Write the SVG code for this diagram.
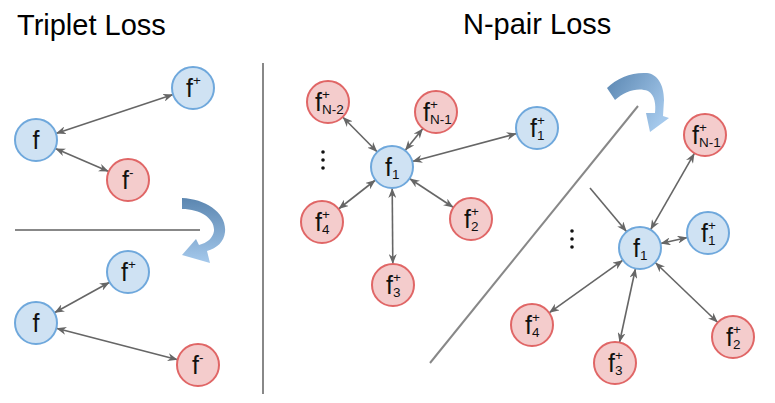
<svg xmlns="http://www.w3.org/2000/svg" width="775" height="403" viewBox="0 0 775 403">
<style>
.title{font-family:"Liberation Sans",Arial,sans-serif;font-size:29px;fill:#000}
.lbl{font-family:"Liberation Sans",Arial,sans-serif;font-size:25px;fill:#111}
.sm{font-size:13.5px}
.b{fill:#cfe2f3;stroke:#6fa8dc;stroke-width:2}
.r{fill:#f4cccc;stroke:#e06666;stroke-width:2}
.e{stroke:#666;stroke-width:1.6;fill:none;marker-start:url(#ah);marker-end:url(#ah)}
.e1{stroke:#666;stroke-width:1.6;fill:none;marker-end:url(#ah)}
.div{stroke:#888;stroke-width:2;fill:none}
.dot{fill:#111}
</style>
<defs>
<marker id="ah" markerUnits="userSpaceOnUse" markerWidth="10" markerHeight="8" refX="10" refY="4" orient="auto-start-reverse">
<path d="M0,0 L10,4 L0,8 L3,4 z" fill="#666"/>
</marker>
<linearGradient id="g1" x1="0" y1="0" x2="0" y2="1">
<stop offset="0" stop-color="#5b86b0"/>
<stop offset="1" stop-color="#a5c9ec"/>
</linearGradient>
<linearGradient id="g2" x1="0" y1="0" x2="1" y2="0.6">
<stop offset="0" stop-color="#5a86b1"/>
<stop offset="1" stop-color="#a5c9ec"/>
</linearGradient>
</defs>

<text class="title" x="17" y="35">Triplet Loss</text>
<text class="title" x="463" y="34">N-pair Loss</text>

<g id="dividers">
<line class="div" x1="15" y1="230" x2="200" y2="230"/>
<line class="div" x1="263" y1="63" x2="263" y2="394"/>
<line class="div" x1="430" y1="363" x2="638" y2="106"/>
</g>

<g id="rotate-arrows">
<path fill="url(#g1)" d="M182,198 C206,199 227,213 225,232 C224,242 217,248 207,251 L210,263 L182,255 L196,239 L199,245 C207,243 213,238 214,231 C215,219 201,209 182,209 Z"/>
<path fill="url(#g2)" d="M607,88 C617,78 632,72 647,73 C657,74 664,84 664,100 L663,116 L669,118 L650,132 L646,113 L655,113 C656,105 655,95 648,91 C638,87 625,91 615,100 Z"/>
</g>

<g id="connectors">
<line class="e" x1="55.9" y1="133.4" x2="173.1" y2="94.6"/>
<line class="e" x1="55.3" y1="148.4" x2="108.7" y2="171.6"/>
<line class="e" x1="54.4" y1="312.8" x2="109.6" y2="282.2"/>
<line class="e" x1="56.3" y1="328.3" x2="177.7" y2="359.7"/>
<line class="e" x1="377.3" y1="152" x2="342.7" y2="117"/>
<line class="e" x1="405.1" y1="150.6" x2="422.9" y2="128.4"/>
<line class="e" x1="412.3" y1="161.5" x2="516.7" y2="133.5"/>
<line class="e" x1="375.5" y1="180" x2="338.5" y2="209"/>
<line class="e" x1="409.5" y1="178.5" x2="453.5" y2="207.5"/>
<line class="e" x1="392.2" y1="188" x2="392.8" y2="264"/>
<line class="e" x1="650.5" y1="229.8" x2="694.5" y2="153.2"/>
<line class="e" x1="660.5" y1="243.5" x2="687.5" y2="237.5"/>
<line class="e" x1="655.2" y1="262.5" x2="717.8" y2="322.5"/>
<line class="e" x1="635.5" y1="268.5" x2="619.5" y2="342.5"/>
<line class="e" x1="622.9" y1="260.2" x2="549.1" y2="312.8"/>
<line class="e1" x1="590" y1="188" x2="626.7" y2="231.7"/>
</g>

<g id="dots-left"><circle class="dot" cx="323" cy="152" r="1.8"/><circle class="dot" cx="323" cy="160" r="1.8"/><circle class="dot" cx="323" cy="168" r="1.8"/></g>
<g id="dots-right"><circle class="dot" cx="572" cy="231" r="1.8"/><circle class="dot" cx="572" cy="239" r="1.8"/><circle class="dot" cx="572" cy="247" r="1.8"/></g>

<!-- Triplet top -->
<g id="t1-f"><circle class="b" cx="36" cy="140" r="21"/><text class="lbl" x="32.5" y="149">f</text></g>
<g id="t1-fp"><circle class="b" cx="193" cy="88" r="21"/><text class="lbl" x="186" y="97">f<tspan class="sm" x="193" y="85">+</tspan></text></g>
<g id="t1-fn"><circle class="r" cx="128" cy="180" r="21"/><text class="lbl" x="122" y="189">f<tspan class="sm" x="129" y="177">-</tspan></text></g>
<!-- Triplet bottom -->
<g id="t2-f"><circle class="b" cx="36" cy="323" r="21"/><text class="lbl" x="32.5" y="332">f</text></g>
<g id="t2-fp"><circle class="b" cx="128" cy="272" r="21"/><text class="lbl" x="121" y="281">f<tspan class="sm" x="128" y="269">+</tspan></text></g>
<g id="t2-fn"><circle class="r" cx="198" cy="365" r="21"/><text class="lbl" x="192" y="374">f<tspan class="sm" x="199" y="362">-</tspan></text></g>

<!-- N-pair left -->
<g id="n1-f1"><circle class="b" cx="392" cy="167" r="21"/><text class="lbl" x="385" y="176">f<tspan class="sm" x="392" y="179">1</tspan></text></g>
<g id="n1-fN2"><circle class="r" cx="328" cy="102" r="21"/><text class="lbl" x="315" y="111">f<tspan class="sm" x="322" y="99">+</tspan><tspan class="sm" x="322" y="114">N-2</tspan></text></g>
<g id="n1-fN1"><circle class="r" cx="436" cy="112" r="21"/><text class="lbl" x="423" y="121">f<tspan class="sm" x="430" y="109">+</tspan><tspan class="sm" x="430" y="124">N-1</tspan></text></g>
<g id="n1-f1p"><circle class="b" cx="537" cy="128" r="21"/><text class="lbl" x="530" y="137">f<tspan class="sm" x="537" y="125">+</tspan><tspan class="sm" x="537" y="140">1</tspan></text></g>
<g id="n1-f4"><circle class="r" cx="322" cy="222" r="21"/><text class="lbl" x="315" y="231">f<tspan class="sm" x="322" y="219">+</tspan><tspan class="sm" x="322" y="234">4</tspan></text></g>
<g id="n1-f2"><circle class="r" cx="471" cy="219" r="21"/><text class="lbl" x="464" y="228">f<tspan class="sm" x="471" y="216">+</tspan><tspan class="sm" x="471" y="231">2</tspan></text></g>
<g id="n1-f3"><circle class="r" cx="393" cy="285" r="21"/><text class="lbl" x="386" y="294">f<tspan class="sm" x="393" y="282">+</tspan><tspan class="sm" x="393" y="297">3</tspan></text></g>

<!-- N-pair right -->
<g id="n2-f1"><circle class="b" cx="640" cy="248" r="21"/><text class="lbl" x="633" y="257">f<tspan class="sm" x="640" y="260">1</tspan></text></g>
<g id="n2-fN1"><circle class="r" cx="705" cy="135" r="21"/><text class="lbl" x="692" y="144">f<tspan class="sm" x="699" y="132">+</tspan><tspan class="sm" x="699" y="147">N-1</tspan></text></g>
<g id="n2-f1p"><circle class="b" cx="708" cy="233" r="21"/><text class="lbl" x="701" y="242">f<tspan class="sm" x="708" y="230">+</tspan><tspan class="sm" x="708" y="245">1</tspan></text></g>
<g id="n2-f2"><circle class="r" cx="733" cy="337" r="21"/><text class="lbl" x="726" y="346">f<tspan class="sm" x="733" y="334">+</tspan><tspan class="sm" x="733" y="349">2</tspan></text></g>
<g id="n2-f3"><circle class="r" cx="615" cy="363" r="21"/><text class="lbl" x="608" y="372">f<tspan class="sm" x="615" y="360">+</tspan><tspan class="sm" x="615" y="375">3</tspan></text></g>
<g id="n2-f4"><circle class="r" cx="532" cy="325" r="21"/><text class="lbl" x="525" y="334">f<tspan class="sm" x="532" y="322">+</tspan><tspan class="sm" x="532" y="337">4</tspan></text></g>
</svg>
